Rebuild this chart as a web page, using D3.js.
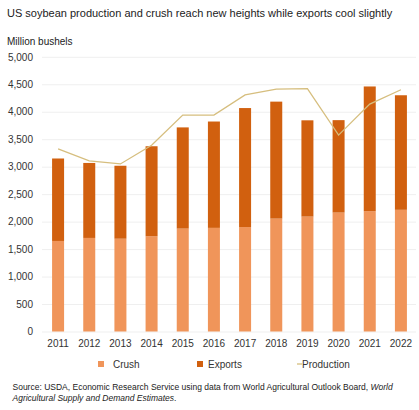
<!DOCTYPE html>
<html><head><meta charset="utf-8">
<script src="https://cdn.jsdelivr.net/npm/d3@7"></script>
<style>body{margin:0;background:#fff;} text{font-family:Arial,"Liberation Sans",sans-serif;}</style>
</head><body>
<svg id="c" width="419" height="410"></svg>
<script>
const years = ["2011","2012","2013","2014","2015","2016","2017","2018","2019","2020","2021","2022"];
const crush = [1648,1703,1689,1734,1873,1886,1901,2055,2092,2165,2190,2215];
const exportsV = [1501,1365,1328,1638,1842,1936,2166,2129,1752,1682,2270,2085];
const production = [3324,3105,3050,3390,3940,3940,4305,4410,4422,3575,4140,4400];
const yTicks = [0,500,1000,1500,2000,2500,3000,3500,4000,4500,5000];

const svg = d3.select("#c");
const x = d3.scaleBand().domain(years).range([42.5,416.5]).paddingInner(0.6).paddingOuter(0.3);
const y = d3.scaleLinear().domain([0,5000]).range([331.5,56.8]);

svg.append("text").attr("x",7).attr("y",17).attr("font-size",11).attr("fill","#222")
  .text("US soybean production and crush reach new heights while exports cool slightly");
svg.append("text").attr("x",7).attr("y",45).attr("font-size",10).attr("fill","#222").text("Million bushels");

const yAxis = svg.append("g").attr("transform","translate(42,0)")
  .call(d3.axisLeft(y).tickValues(yTicks).tickSize(-374).tickFormat(d3.format(",")));
yAxis.select(".domain").remove();
yAxis.selectAll(".tick line").attr("stroke","#efefef");
yAxis.selectAll(".tick text").attr("font-size",10).attr("fill","#333").attr("x",-9).attr("font-family","Arial");

const bw = 12;
const g = svg.append("g");
years.forEach((yr,i)=>{
  const cx = x(yr)+x.bandwidth()/2;
  g.append("rect").attr("x",cx-bw/2).attr("width",bw)
    .attr("y",y(crush[i])).attr("height",y(0)-y(crush[i])).attr("fill","#F0955A");
  g.append("rect").attr("x",cx-bw/2).attr("width",bw)
    .attr("y",y(crush[i]+exportsV[i])).attr("height",y(crush[i])-y(crush[i]+exportsV[i])).attr("fill","#D1600F");
});

const line = d3.line().x((d,i)=>x(years[i])+x.bandwidth()/2).y(d=>y(d));
svg.append("path").datum(production).attr("d",line).attr("fill","none")
  .attr("stroke","#D6BE7E").attr("stroke-width",1.3);

const xAxis = svg.append("g").attr("transform","translate(0,331.5)")
  .call(d3.axisBottom(x).tickSize(0));
xAxis.select(".domain").remove();
xAxis.selectAll(".tick text").attr("font-size",10).attr("fill","#333").attr("dy",0).attr("y",15.5).attr("font-family","Arial");

const lg = svg.append("g");
lg.append("rect").attr("x",98).attr("y",361).attr("width",6).attr("height",6).attr("fill","#F0955A");
lg.append("text").attr("x",113).attr("y",368).attr("font-size",10).attr("fill","#333").text("Crush");
lg.append("rect").attr("x",197).attr("y",361).attr("width",6).attr("height",6).attr("fill","#D1600F");
lg.append("text").attr("x",208).attr("y",368).attr("font-size",10).attr("fill","#333").text("Exports");
lg.append("line").attr("x1",297).attr("x2",302).attr("y1",364).attr("y2",364).attr("stroke","#D6BE7E").attr("stroke-width",1.3);
lg.append("text").attr("x",302).attr("y",368).attr("font-size",10).attr("fill","#333").text("Production");

const src = svg.append("text").attr("x",12.5).attr("y",390).attr("font-size",8.5).attr("fill","#222");
src.append("tspan").text("Source: USDA, Economic Research Service using data from World Agricultural Outlook Board, ");
src.append("tspan").attr("font-style","italic").text("World");
const src2 = svg.append("text").attr("x",12.5).attr("y",400.5).attr("font-size",8.5).attr("fill","#222");
src2.append("tspan").attr("font-style","italic").text("Agricultural Supply and Demand Estimates");
src2.append("tspan").text(".");
</script>
</body></html>
